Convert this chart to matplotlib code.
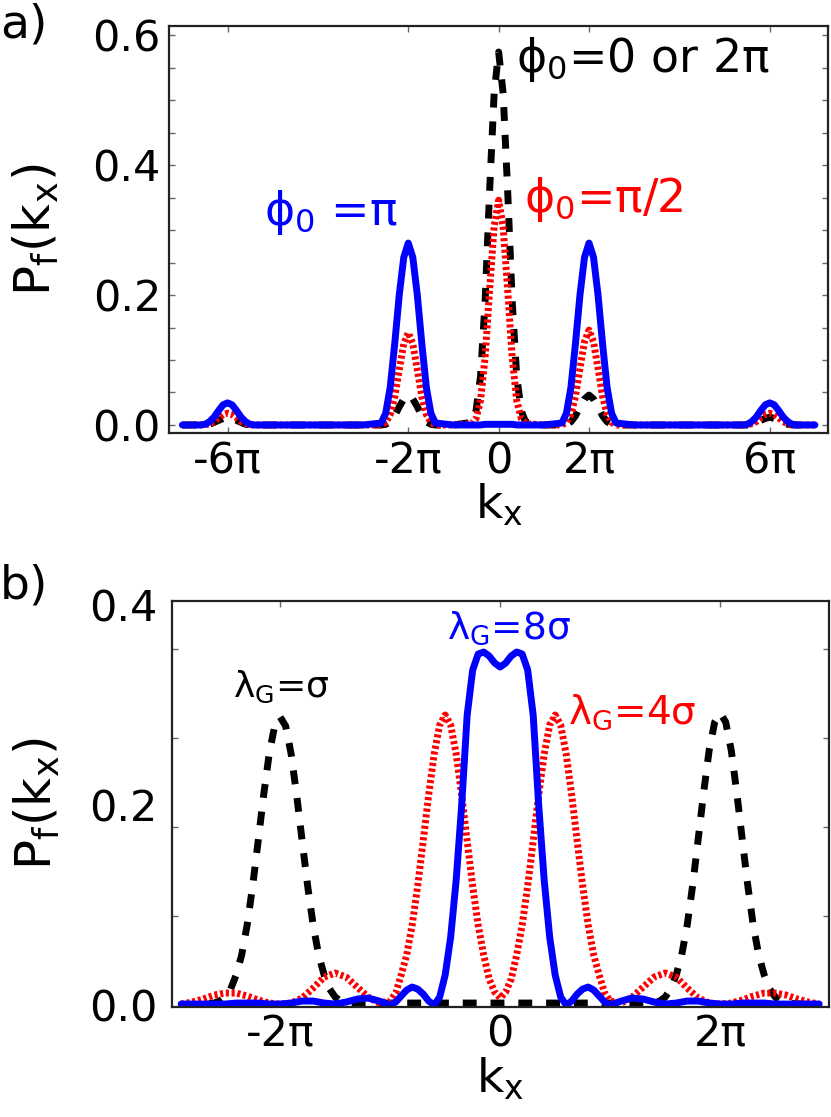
import matplotlib
matplotlib.use("Agg")
import matplotlib.pyplot as plt
from matplotlib.ticker import FixedLocator

# ---------------- Panel a data (k_x in units of pi) ----------------
ka = [-7.0,
      -6.6, -6.5, -6.4, -6.3, -6.2, -6.1, -6.0, -5.9, -5.8, -5.7, -5.6, -5.5, -5.4,
      -5.0, -3.0,
      -2.6, -2.5, -2.4, -2.3, -2.2, -2.1, -2.0, -1.9, -1.8, -1.7, -1.6, -1.5, -1.4,
      -1.0,
      -0.6, -0.5, -0.4, -0.3, -0.2, -0.1, 0.0, 0.1, 0.2, 0.3, 0.4, 0.5, 0.6,
      1.0,
      1.4, 1.5, 1.6, 1.7, 1.8, 1.9, 2.0, 2.1, 2.2, 2.3, 2.4, 2.5, 2.6,
      3.0, 5.0,
      5.4, 5.5, 5.6, 5.7, 5.8, 5.9, 6.0, 6.1, 6.2, 6.3, 6.4, 6.5, 6.6,
      7.0]

pa_phi_pi = [0.0,
             0.0, 0.001, 0.005, 0.012, 0.022, 0.031, 0.034, 0.031, 0.022, 0.012, 0.005, 0.001, 0.0,
             0.0, 0.0,
             0.003, 0.018, 0.058, 0.125, 0.200, 0.258, 0.280, 0.258, 0.200, 0.125, 0.058, 0.018, 0.003,
             0.0,
             0.0, 0.0, 0.0, 0.001, 0.001, 0.001, 0.001, 0.001, 0.001, 0.001, 0.0, 0.0, 0.0,
             0.0,
             0.003, 0.018, 0.058, 0.125, 0.200, 0.258, 0.280, 0.258, 0.200, 0.125, 0.058, 0.018, 0.003,
             0.0, 0.0,
             0.0, 0.001, 0.005, 0.012, 0.022, 0.031, 0.034, 0.031, 0.022, 0.012, 0.005, 0.001, 0.0,
             0.0]

pa_phi_half = [0.0,
               0.0, 0.0, 0.002, 0.005, 0.011, 0.016, 0.018, 0.016, 0.011, 0.005, 0.002, 0.0, 0.0,
               0.0, 0.0,
               0.0, 0.004, 0.016, 0.043, 0.085, 0.125, 0.142, 0.125, 0.085, 0.043, 0.016, 0.004, 0.0,
               0.0,
               0.002, 0.010, 0.038, 0.104, 0.208, 0.305, 0.346, 0.305, 0.208, 0.104, 0.038, 0.010, 0.002,
               0.0,
               0.0, 0.004, 0.016, 0.044, 0.087, 0.128, 0.146, 0.128, 0.087, 0.044, 0.016, 0.004, 0.0,
               0.0, 0.0,
               0.0, 0.0, 0.002, 0.005, 0.011, 0.016, 0.018, 0.016, 0.011, 0.005, 0.002, 0.0, 0.0,
               0.0]

pa_phi_zero = [0.0,
               0.0, 0.0, 0.001, 0.004, 0.007, 0.010, 0.012, 0.010, 0.007, 0.004, 0.001, 0.0, 0.0,
               0.0, 0.0,
               0.0, 0.001, 0.005, 0.014, 0.028, 0.040, 0.046, 0.040, 0.028, 0.014, 0.005, 0.001, 0.0,
               0.0,
               0.004, 0.022, 0.075, 0.190, 0.360, 0.510, 0.574, 0.510, 0.360, 0.190, 0.075, 0.022, 0.004,
               0.0,
               0.0, 0.001, 0.005, 0.014, 0.028, 0.040, 0.046, 0.040, 0.028, 0.014, 0.005, 0.001, 0.0,
               0.0, 0.0,
               0.0, 0.0, 0.001, 0.004, 0.007, 0.010, 0.012, 0.010, 0.007, 0.004, 0.001, 0.0, 0.0,
               0.0]

# ---------------- Panel b data (k_x in units of pi) ----------------
kb = [-2.9, -2.8, -2.7, -2.6, -2.5, -2.4, -2.3, -2.2, -2.1, -2.0,
      -1.9, -1.8, -1.7, -1.6, -1.5, -1.4, -1.3, -1.2, -1.1, -1.0,
      -0.95, -0.9, -0.85, -0.8, -0.75, -0.7, -0.65, -0.6, -0.55, -0.5,
      -0.45, -0.4, -0.35, -0.3, -0.25, -0.2, -0.15, -0.1, -0.05,
      0.0,
      0.05, 0.1, 0.15, 0.2, 0.25, 0.3, 0.35, 0.4, 0.45, 0.5,
      0.55, 0.6, 0.65, 0.7, 0.75, 0.8, 0.85, 0.9, 0.95,
      1.0, 1.1, 1.2, 1.3, 1.4, 1.5, 1.6, 1.7, 1.8, 1.9,
      2.0, 2.1, 2.2, 2.3, 2.4, 2.5, 2.6, 2.7, 2.8, 2.9]

pb_lam4 = [0.001, 0.003, 0.006, 0.010, 0.012, 0.012, 0.009, 0.005, 0.002, 0.001,
           0.002, 0.007, 0.017, 0.028, 0.032, 0.028, 0.018, 0.008, 0.002, 0.004,
           0.012, 0.030, 0.050, 0.080, 0.119, 0.164, 0.210, 0.251, 0.280, 0.290,
           0.280, 0.251, 0.210, 0.164, 0.119, 0.080, 0.050, 0.026, 0.013,
           0.007,
           0.013, 0.026, 0.050, 0.080, 0.119, 0.164, 0.210, 0.251, 0.280, 0.290,
           0.280, 0.251, 0.210, 0.164, 0.119, 0.080, 0.050, 0.030, 0.012,
           0.004, 0.002, 0.008, 0.018, 0.028, 0.032, 0.028, 0.017, 0.007, 0.002,
           0.001, 0.002, 0.005, 0.009, 0.012, 0.012, 0.010, 0.006, 0.003, 0.001]

pb_lam8 = [0.001, 0.001, 0.001, 0.001, 0.001, 0.002, 0.002, 0.002, 0.001, 0.001,
           0.002, 0.004, 0.004, 0.002, 0.001, 0.003, 0.006, 0.007, 0.004, 0.0,
           0.003, 0.009, 0.015, 0.018, 0.016, 0.011, 0.004, 0.0, 0.008, 0.030,
           0.068, 0.125, 0.200, 0.290, 0.335, 0.351, 0.353, 0.349, 0.342,
           0.338,
           0.342, 0.349, 0.353, 0.351, 0.335, 0.290, 0.200, 0.125, 0.068, 0.030,
           0.008, 0.0, 0.004, 0.011, 0.016, 0.018, 0.015, 0.009, 0.003,
           0.0, 0.004, 0.007, 0.006, 0.003, 0.001, 0.002, 0.004, 0.004, 0.002,
           0.001, 0.001, 0.002, 0.002, 0.002, 0.001, 0.001, 0.001, 0.001, 0.001]

kb_lam1 = [-2.9, -2.6, -2.55, -2.5, -2.45, -2.4, -2.35, -2.3, -2.25, -2.2, -2.15, -2.1, -2.05,
           -2.0, -1.95, -1.9, -1.85, -1.8, -1.75, -1.7, -1.65, -1.6, -1.55, -1.5, -1.45, -1.4,
           1.4, 1.45, 1.5, 1.55, 1.6, 1.65, 1.7, 1.75, 1.8, 1.85, 1.9, 1.95, 2.0,
           2.05, 2.1, 2.15, 2.2, 2.25, 2.3, 2.35, 2.4, 2.45, 2.5, 2.55, 2.6, 2.9]
pb_lam1 = [0.0, 0.002, 0.004, 0.008, 0.016, 0.030, 0.050, 0.080, 0.119, 0.164, 0.210, 0.251, 0.279,
           0.288, 0.279, 0.251, 0.210, 0.164, 0.119, 0.080, 0.050, 0.030, 0.016, 0.008, 0.004, 0.002,
           0.002, 0.004, 0.008, 0.016, 0.030, 0.050, 0.080, 0.120, 0.166, 0.213, 0.255, 0.283, 0.292,
           0.283, 0.255, 0.213, 0.166, 0.120, 0.080, 0.050, 0.030, 0.016, 0.008, 0.004, 0.002, 0.0]

xticks_a = [-6, -2, 0, 2, 6]
xticklabels_a = ["-6π", "-2π", "0", "2π", "6π"]
yticks_a = [0.0, 0.2, 0.4, 0.6]
yticklabels_a = ["0.0", "0.2", "0.4", "0.6"]
xticks_b = [-2, 0, 2]
xticklabels_b = ["-2π", "0", "2π"]
yticks_b = [0.0, 0.2, 0.4]
yticklabels_b = ["0.0", "0.2", "0.4"]

plt.rcParams["font.family"] = ["DejaVu Sans"]
plt.rcParams["mathtext.fontset"] = "dejavusans"

fig = plt.figure(figsize=(8.31, 11.17), dpi=100)
ax1 = fig.add_axes([0.2037, 0.6121, 0.7927, 0.3646])
ax2 = fig.add_axes([0.2066, 0.0987, 0.7906, 0.3635])

TICK_FS = 31
XLABEL_FS = 34
YLABEL_FS = 36

def style_axes(ax):
    for sp in ax.spines.values():
        sp.set_linewidth(1.6)
        sp.set_color("#222222")
    ax.tick_params(which="both", direction="in", top=True, right=True,
                   length=4, width=1, color="#666666", labelsize=TICK_FS)

# Panel a
ax1.plot(ka, pa_phi_zero, color="black", lw=5, dashes=(2.0, 2.0))
ax1.plot(ka, pa_phi_half, color="red", lw=5, dashes=(0.45, 0.38))
ax1.plot(ka, pa_phi_pi, color="blue", lw=5, solid_capstyle="round")
ax1.set_xlim(-7.29, 7.29)
ax1.set_ylim(-0.0128, 0.614)
style_axes(ax1)
ax1.set_xticks(xticks_a)
ax1.set_xticklabels(xticklabels_a)
ax1.set_yticks(yticks_a)
ax1.set_yticklabels(yticklabels_a)
ax1.yaxis.set_minor_locator(FixedLocator([0.05, 0.1, 0.15, 0.25, 0.3, 0.35, 0.45, 0.5, 0.55]))
ax1.tick_params(axis="y", pad=6)
ax1.tick_params(axis="x", pad=5)
ax1.set_xlabel("k$_\\mathregular{x}$", fontsize=XLABEL_FS, labelpad=0)
ax1.set_ylabel("P$_\\mathregular{f}$(k$_\\mathregular{x}$)", fontsize=YLABEL_FS)
ax1.yaxis.set_label_coords(-0.164, 0.5)

ax1.text(0.376, 0.5435, "ϕ$_\\mathregular{0}$=0 or 2π", color="black", fontsize=33,
         ha="left", va="baseline")
ax1.text(0.551, 0.328, "ϕ$_\\mathregular{0}$=π/2", color="red", fontsize=33,
         ha="left", va="baseline")
ax1.text(-5.19, 0.3077, "ϕ$_\\mathregular{0}$ =π", color="blue", fontsize=33,
         ha="left", va="baseline")

# Panel b
ax2.plot(kb_lam1, pb_lam1, color="black", lw=5, dashes=(2.0, 2.0))
ax2.plot(kb, pb_lam4, color="red", lw=5, dashes=(0.45, 0.38))
ax2.plot(kb, pb_lam8, color="blue", lw=5, solid_capstyle="round")
ax2.set_xlim(-2.986, 2.986)
ax2.set_ylim(-0.0017, 0.4043)
style_axes(ax2)
ax2.set_xticks(xticks_b)
ax2.set_xticklabels(xticklabels_b)
ax2.set_yticks(yticks_b)
ax2.set_yticklabels(yticklabels_b)
ax2.tick_params(axis="y", which="major", length=0, pad=10)
ax2.yaxis.set_minor_locator(FixedLocator([0.089, 0.178, 0.267, 0.356]))
ax2.tick_params(axis="x", pad=5)
ax2.set_xlabel("k$_\\mathregular{x}$", fontsize=XLABEL_FS, labelpad=0)
ax2.set_ylabel("P$_\\mathregular{f}$(k$_\\mathregular{x}$)", fontsize=YLABEL_FS)
ax2.yaxis.set_label_coords(-0.167, 0.5)

ax2.text(-0.486, 0.3667, "λ$_\\mathregular{G}$=8σ", color="blue", fontsize=27,
         ha="left", va="baseline")
ax2.text(-2.43, 0.308, "λ$_\\mathregular{G}$=σ", color="black", fontsize=26,
         ha="left", va="baseline")
ax2.text(0.619, 0.2817, "λ$_\\mathregular{G}$=4σ", color="red", fontsize=28,
         ha="left", va="baseline")

fig.text(0.0, 1 - 38 / 1117, "a)", fontsize=34, ha="left", va="baseline")
fig.text(0.0, 1 - 598 / 1117, "b)", fontsize=34, ha="left", va="baseline")

fig.savefig("out.png", dpi=100)
